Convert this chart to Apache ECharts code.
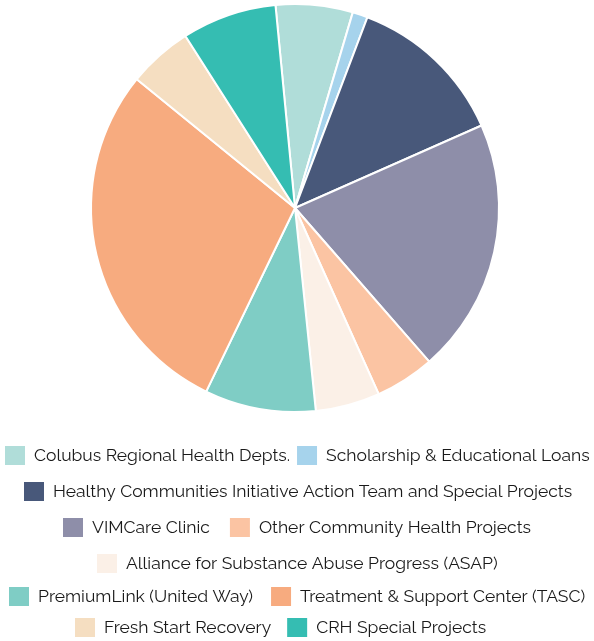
<!DOCTYPE html>
<html>
<head>
<meta charset="utf-8">
<script src="https://cdn.jsdelivr.net/npm/echarts@6/dist/echarts.min.js"></script>
<style>
  html, body { margin: 0; padding: 0; background: #fff; }
  #chart { width: 594px; height: 641px; }
</style>
</head>
<body>
<div id="chart"></div>
<script>
// programme names, in the order they run clockwise round the pie
var names = [
  'Colubus Regional Health Depts.',
  'Scholarship & Educational Loans',
  'Healthy Communities Initiative Action Team and Special Projects',
  'VIMCare Clinic',
  'Other Community Health Projects',
  'Alliance for Substance Abuse Progress (ASAP)',
  'PremiumLink (United Way)',
  'Treatment & Support Center (TASC)',
  'Fresh Start Recovery',
  'CRH Special Projects'
];
// share of total, percent
var shares = [6.1, 1.2, 12.6, 20.2, 4.7, 5.1, 8.8, 28.7, 5.1, 7.5];
var colors = ['#b0ddd9', '#a6d3ec', '#48587a', '#8e8ea9', '#fbc4a3',
              '#fbf0e7', '#7fcdc5', '#f7ab7f', '#f5dec1', '#35bdb2'];
// how the legend wraps in the picture
var legendRows = [
  [0, 1],
  [2],
  [3, 4],
  [5],
  [6, 7],
  [8, 9]
];
var rowMid = [456, 492, 528, 564, 597, 628];
var rowLeft = [5, 24, 63, 97, 9, 75];
var rowGap = [7, 16, 20, 16, 18, 16];

var pieData = [];
for (var i = 0; i < names.length; i++) {
  pieData.push({ name: names[i], value: shares[i], itemStyle: { color: colors[i] } });
}

var legends = [];
for (var r = 0; r < legendRows.length; r++) {
  legends.push({
    data: legendRows[r].map(function (k) { return names[k]; }),
    left: rowLeft[r],
    top: rowMid[r] - 10,
    padding: 0,
    icon: 'rect',
    itemWidth: 20,
    itemHeight: 19,
    itemGap: rowGap[r],
    selectedMode: false,
    itemStyle: { borderWidth: 0 },
    textStyle: {
      fontFamily: 'Raleway, Lato, sans-serif',
      fontSize: 17.5,
      color: '#1a1a1a',
      padding: [0, 0, 0, 4]
    }
  });
}

var myChart = echarts.init(document.getElementById('chart'));
var option = {
  animation: false,
  legend: legends,
  series: [{
    type: 'pie',
    center: [295, 208],
    radius: [0, 204],
    startAngle: 95.5,
    clockwise: true,
    label: { show: false },
    labelLine: { show: false },
    itemStyle: { borderColor: '#fff', borderWidth: 2 },
    emphasis: { disabled: true },
    data: pieData
  }]
};
myChart.setOption(option);
</script>
</body>
</html>
